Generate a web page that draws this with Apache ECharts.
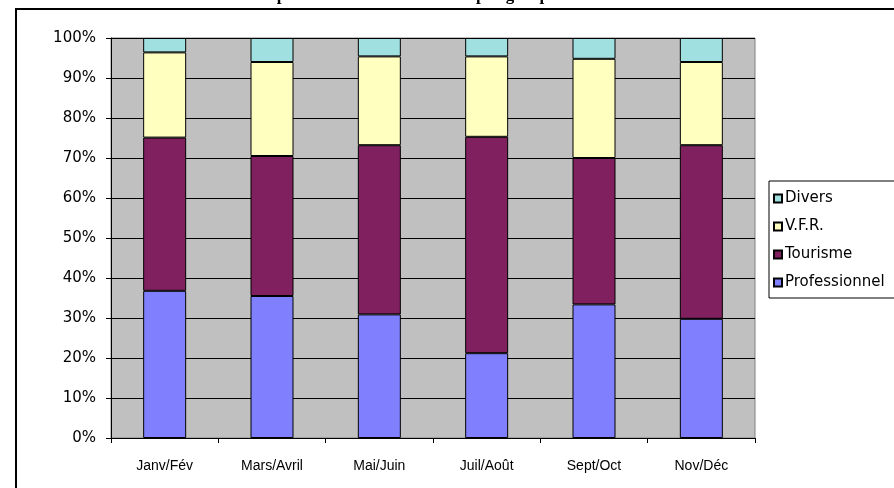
<!DOCTYPE html>
<html>
<head>
<meta charset="utf-8">
<script src="https://cdn.jsdelivr.net/npm/echarts@6/dist/echarts.min.js"></script>
<style>
  html, body { margin: 0; padding: 0; background: #fff; }
  #chart { width: 894px; height: 488px; }
</style>
</head>
<body>
<div id="chart"></div>
<script>
// Two-month periods
const categories = ['Janv/Fév', 'Mars/Avril', 'Mai/Juin', 'Juil/Août', 'Sept/Oct', 'Nov/Déc'];

// Share of passengers per travel purpose (%)
const professionnel = [36.8, 35.5, 30.9, 21.2, 33.4, 29.8];
const tourisme      = [38.3, 35.0, 42.3, 54.1, 36.6, 43.4];
const vfr           = [21.3, 23.5, 22.2, 20.1, 24.8, 20.8];
const divers        = [3.6, 6.0, 4.6, 4.6, 5.2, 6.0];

// Value axis ticks
const yMin = 0, yMax = 100, yStep = 10;

const titleText = 'Répartition du trafic mensuel par groupe';

const wideSans = '"DejaVu Sans", Verdana, sans-serif';
const narrowSans = '"Liberation Sans", Arial, sans-serif';

const chart = echarts.init(document.getElementById('chart'), null, { renderer: 'canvas' });

const makeSeries = (name, data, color) => ({
  name: name,
  type: 'bar',
  stack: 'total',
  barWidth: 43,
  data: data,
  itemStyle: { color: color, borderColor: '#000', borderWidth: 1 },
  emphasis: { disabled: true }
});

chart.setOption({
  animation: false,
  backgroundColor: '#fff',
  grid: {
    left: 111, right: 139, top: 38, height: 400,
    show: true, backgroundColor: '#C0C0C0', borderColor: '#808080', borderWidth: 1
  },
  legend: {
    orient: 'vertical',
    left: 769, top: 181,
    data: ['Divers', 'V.F.R.', 'Tourisme', 'Professionnel'],
    icon: 'rect',
    itemWidth: 8, itemHeight: 8, itemGap: 13,
    padding: [10, 30, 8, 4],
    borderColor: '#000', borderWidth: 1,
    backgroundColor: '#fff',
    textStyle: { fontFamily: wideSans, fontSize: 15, color: '#000', lineHeight: 15, padding: [0, 0, 0, -2] }
  },
  graphic: [
    {
      type: 'rect', silent: true, z: 100,
      shape: { x: 16, y: 9, width: 1000, height: 1000 },
      style: { fill: 'none', stroke: '#000', lineWidth: 2 }
    },
    {
      type: 'text', silent: true, z: 100,
      style: {
        text: titleText, x: 257, y: 4,
        font: 'bold 17px "Liberation Serif", "Times New Roman", serif',
        fill: '#000', align: 'left', verticalAlign: 'bottom'
      }
    }
  ],
  xAxis: {
    type: 'category',
    data: categories,
    boundaryGap: true,
    axisLine: { show: true, lineStyle: { color: '#000', width: 1 } },
    axisTick: { show: true, length: 5, lineStyle: { color: '#000' } },
    axisLabel: { margin: 21, color: '#000', fontSize: 14, fontFamily: narrowSans },
    splitLine: { show: false }
  },
  yAxis: {
    type: 'value',
    min: yMin, max: yMax, interval: yStep,
    axisLine: { show: true, lineStyle: { color: '#000', width: 1 } },
    axisTick: { show: true, length: 5, lineStyle: { color: '#000' } },
    axisLabel: { margin: 15, formatter: '{value}%', color: '#000', fontSize: 15, fontFamily: wideSans },
    splitLine: { show: true, lineStyle: { color: '#000', width: 1 } }
  },
  series: [
    makeSeries('Professionnel', professionnel, '#8080FF'),
    makeSeries('Tourisme', tourisme, '#80205F'),
    makeSeries('V.F.R.', vfr, '#FFFFC0'),
    makeSeries('Divers', divers, '#A0E0E0')
  ]
});
</script>
</body>
</html>
